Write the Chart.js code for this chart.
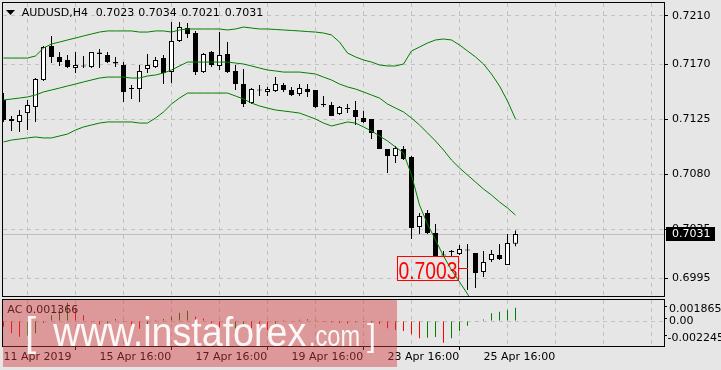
<!DOCTYPE html>
<html><head><meta charset="utf-8">
<script src="https://cdn.jsdelivr.net/npm/chart.js@4.4.0/dist/chart.umd.min.js"></script>
<style>
html,body{margin:0;padding:0;background:#e6e6e6;width:721px;height:370px;overflow:hidden}
canvas{position:absolute;left:0}
#main{top:0}
#sub{top:297px}
</style></head><body>
<canvas id="main" width="721" height="297"></canvas>
<canvas id="sub" width="721" height="73"></canvas>
<script>
// ---------------- data ----------------
const symbolTitle = 'AUDUSD,H4';
const open = [0.71409,0.71237,0.71229,0.71302,0.71352,0.71573,0.71852,0.71761,0.71737,0.71671,
0.71684,0.71679,0.71786,0.71778,0.71720,0.71696,0.71499,0.71499,0.71663,0.71679,
0.71753,0.71638,0.71893,0.71999,0.71958,0.71638,0.71802,0.71688,0.71786,0.71647,
0.71540,0.71384,0.71487,0.71475,0.71483,0.71532,0.71491,0.71458,0.71499,0.71491,
0.71376,0.71368,0.71294,0.71335,0.71327,0.71261,0.71253,0.71163,0.71008,0.70950,
0.71008,0.70942,0.70368,0.70483,0.70319,0.70134,0.70163,0.70147,0.70175,0.70155,
0.69999,0.70097,0.70138,0.70056,0.70230];
const high = [0.71466,0.71278,0.71327,0.71409,0.71589,0.71852,0.71934,0.71802,0.71778,0.71802,
0.71770,0.71802,0.71827,0.71802,0.71761,0.71720,0.71532,0.71696,0.71786,0.71761,
0.71778,0.72048,0.72048,0.72040,0.71975,0.71794,0.71811,0.71966,0.71884,0.71696,
0.71663,0.71507,0.71532,0.71516,0.71597,0.71548,0.71516,0.71540,0.71540,0.71491,
0.71442,0.71393,0.71360,0.71376,0.71401,0.71319,0.71253,0.71163,0.71008,0.71032,
0.71032,0.70950,0.70483,0.70507,0.70393,0.70171,0.70179,0.70220,0.70229,0.70155,
0.70171,0.70179,0.70229,0.70311,0.70340];
const low = [0.71229,0.71155,0.71147,0.71163,0.71229,0.71565,0.71712,0.71688,0.71671,0.71630,
0.71671,0.71671,0.71671,0.71712,0.71679,0.71393,0.71417,0.71393,0.71630,0.71671,
0.71540,0.71548,0.71884,0.71917,0.71614,0.71630,0.71679,0.71655,0.71630,0.71491,
0.71352,0.71376,0.71442,0.71442,0.71475,0.71475,0.71442,0.71442,0.71434,0.71343,
0.71352,0.71278,0.71286,0.71302,0.71204,0.71220,0.71089,0.71008,0.70811,0.70893,
0.70917,0.70270,0.70311,0.70311,0.70122,0.70130,0.70130,0.70138,0.69852,0.69868,
0.69958,0.70081,0.70097,0.70056,0.70210];
const close = [0.71245,0.71253,0.71286,0.71368,0.71581,0.71843,0.71761,0.71720,0.71679,0.71696,
0.71684,0.71802,0.71798,0.71720,0.71708,0.71475,0.71499,0.71647,0.71696,0.71737,
0.71630,0.71893,0.72007,0.71950,0.71638,0.71786,0.71696,0.71778,0.71638,0.71540,
0.71376,0.71499,0.71487,0.71499,0.71540,0.71491,0.71450,0.71507,0.71475,0.71352,
0.71368,0.71278,0.71352,0.71335,0.71270,0.71229,0.71139,0.71008,0.70950,0.71016,
0.70925,0.70360,0.70458,0.70319,0.70130,0.70134,0.70163,0.70188,0.70175,0.69991,
0.70081,0.70147,0.70106,0.70237,0.70310];
const bbUpper = [0.71753,0.71753,0.71753,0.71753,0.71770,0.71835,0.71868,0.71884,0.71901,0.71917,
0.71934,0.71950,0.71966,0.71975,0.71975,0.71975,0.71975,0.71966,0.71966,0.71975,
0.71975,0.71966,0.71983,0.71991,0.71991,0.71991,0.71991,0.71991,0.71983,0.71991,
0.72007,0.71999,0.71991,0.71991,0.71987,0.71983,0.71979,0.71975,0.71970,0.71966,
0.71958,0.71942,0.71884,0.71794,0.71762,0.71737,0.71720,0.71696,0.71688,0.71688,
0.71704,0.71811,0.71843,0.71876,0.71901,0.71909,0.71901,0.71860,0.71811,0.71762,
0.71704,0.71622,0.71524,0.71401,0.71253];
const bbMiddle = [0.71409,0.71417,0.71425,0.71434,0.71450,0.71475,0.71491,0.71507,0.71524,0.71540,
0.71557,0.71573,0.71589,0.71597,0.71597,0.71597,0.71589,0.71589,0.71606,0.71614,
0.71630,0.71655,0.71688,0.71720,0.71720,0.71720,0.71720,0.71720,0.71720,0.71712,
0.71704,0.71688,0.71671,0.71655,0.71647,0.71638,0.71638,0.71638,0.71630,0.71622,
0.71597,0.71573,0.71540,0.71516,0.71499,0.71475,0.71450,0.71425,0.71376,0.71343,
0.71311,0.71261,0.71204,0.71139,0.71073,0.70999,0.70917,0.70852,0.70794,0.70737,
0.70679,0.70630,0.70573,0.70524,0.70466];
const bbLower = [0.71065,0.71081,0.71089,0.71098,0.71106,0.71098,0.71098,0.71114,0.71130,0.71163,
0.71188,0.71204,0.71220,0.71229,0.71229,0.71229,0.71229,0.71220,0.71220,0.71261,
0.71311,0.71376,0.71425,0.71466,0.71466,0.71466,0.71466,0.71466,0.71466,0.71442,
0.71417,0.71384,0.71360,0.71343,0.71327,0.71319,0.71311,0.71302,0.71278,0.71253,
0.71220,0.71196,0.71212,0.71229,0.71220,0.71188,0.71155,0.71114,0.71073,0.71024,
0.70975,0.70794,0.70548,0.70392,0.70262,0.70130,0.70016,0.69918,0.69819,0.69712,
0.69655,0.69638,0.69622,0.69646,0.69679];
const ac = [-0.00058,-0.00127,-0.00161,-0.00150,-0.00127,-0.00020,0.00060,0.00120,0.001865,0.00130,
0.00060,-0.00010,-0.00035,-0.00020,0.00020,-0.00010,-0.00060,-0.00080,-0.00060,0.00010,
0.00020,0.00045,0.00085,0.00105,0.00045,0.00025,-0.00024,-0.00065,-0.00090,-0.00075,
-0.00060,-0.00075,-0.00090,-0.00095,-0.00025,0.00010,0.00005,0.00012,0.00018,0.00010,
-0.00010,-0.00015,-0.00020,-0.00025,-0.00015,-0.00010,-0.00018,-0.00030,-0.00075,-0.00093,
-0.00103,-0.00137,-0.00178,-0.00172,-0.00165,-0.002245,-0.00178,-0.00103,-0.00048,-0.00008,
0.00015,0.00079,0.00096,0.00113,0.001366];
const priceTicks = [0.6995, 0.7035, 0.7080, 0.7125, 0.7170, 0.7210];
const acTicks = [0.001865, 0, -0.002245];
const acTickLabels = ['0.001865', '0.00', '-0.002245'];
const dateLabelIndex = [0, 12, 24, 36, 48, 60];
const dateLabels = ['11 Apr 2019', '15 Apr 16:00', '17 Apr 16:00', '19 Apr 16:00', '23 Apr 16:00', '25 Apr 16:00'];
const markIndex = 58;
const markPrice = 0.7003;

// ---------------- setup ----------------
const FONT = "'DejaVu Sans', sans-serif";
Chart.defaults.font.family = FONT;
Chart.defaults.font.size = 11;
Chart.defaults.color = '#000';
const BG = '#e6e6e6';
const GRID = '#c2c2c2';
const GREEN = '#008000';
const idx = open.map((_, i) => i);
const gridIdx = []; for (let k = 0; k <= 78; k += 6) gridIdx.push(k);
const xMin = -0.0625, xMax = 82.5625;
const yMin = 0.698025, yMax = 0.722041;
const acMin = -0.002569, acMax = 0.002158;
const n = close.length;

function fixFit(w, h) {
  return s => {
    if (w != null) s.width = w;
    if (h != null) s.height = h;
    s.paddingLeft = 0; s.paddingRight = 0; s.paddingTop = 0; s.paddingBottom = 0;
  };
}
function drawFit(c, t, x, y, font, w) {
  c.save(); c.font = font;
  const m = c.measureText(t).width;
  c.translate(x, y);
  if (w) c.scale(w / m, 1);
  c.fillText(t, 0, 0);
  c.restore();
}
const bgPlugin = {
  id: 'bg',
  beforeDraw(chart) {
    const c = chart.ctx; c.save(); c.fillStyle = BG; c.fillRect(0, 0, chart.width, chart.height); c.restore();
  }
};

const mainOverlay = {
  id: 'mainOverlay',
  beforeDatasetsDraw(chart) {
    const c = chart.ctx, a = chart.chartArea;
    const y = Math.floor(chart.scales.y.getPixelForValue(close[n - 1])) + 0.5;
    c.save(); c.strokeStyle = '#bdbdbd'; c.lineWidth = 1;
    c.beginPath(); c.moveTo(a.left, y); c.lineTo(a.right, y); c.stroke(); c.restore();
  },
  afterDraw(chart) {
    const c = chart.ctx, xs = chart.scales.x, ys = chart.scales.y;
    c.save();
    c.strokeStyle = '#000'; c.lineWidth = 1;
    c.strokeRect(2.5, 2.5, 662, 294);
    // title
    c.fillStyle = '#000';
    c.beginPath(); c.moveTo(6, 10); c.lineTo(15, 10); c.lineTo(10.5, 15); c.closePath(); c.fill();
    c.font = '11px ' + FONT; c.textBaseline = 'middle'; c.textAlign = 'left';
    c.fillText(symbolTitle, 21.7, 13);
    const vals = [open[n - 1], high[n - 1], low[n - 1], close[n - 1]].map(v => v.toFixed(4));
    const vx = [95.7, 138.3, 181.3, 224.7];
    vals.forEach((t, k) => c.fillText(t, vx[k], 13));
    // last price box
    const py = ys.getPixelForValue(close[n - 1]);
    c.fillStyle = '#000';
    c.fillRect(666, Math.round(py) - 7, 49, 14);
    c.fillStyle = '#fff';
    c.fillText(close[n - 1].toFixed(4), 672, Math.round(py));
    // 0.7003 mark
    const mx = xs.getPixelForValue(markIndex), my = ys.getPixelForValue(markPrice);
    const right = Math.round(mx - 9.5), left = right - 61, top = Math.round(my) - 12;
    c.strokeStyle = '#ff0000'; c.fillStyle = '#ff0000';
    c.strokeRect(left + 0.5, top + 0.5, 61, 24);
    c.beginPath(); c.moveTo(right + 1, Math.round(my) + 0.5); c.lineTo(Math.round(mx), Math.round(my) + 0.5); c.stroke();
    c.textBaseline = 'alphabetic';
    drawFit(c, markPrice.toFixed(4), left + 1.5, top + 22.5, "24px 'Liberation Sans', sans-serif", 59);
    c.restore();
  }
};

new Chart(document.getElementById('main'), {
  type: 'bar',
  data: {
    datasets: [
      { type: 'line', data: idx.map(i => ({ x: i, y: bbUpper[i] })), borderColor: GREEN, borderWidth: 1, pointRadius: 0, tension: 0, order: 0 },
      { type: 'line', data: idx.map(i => ({ x: i, y: bbMiddle[i] })), borderColor: GREEN, borderWidth: 1, pointRadius: 0, tension: 0, order: 0 },
      { type: 'line', data: idx.map(i => ({ x: i, y: bbLower[i] })), borderColor: GREEN, borderWidth: 1, pointRadius: 0, tension: 0, order: 0 },
      { type: 'bar', data: idx.map(i => ({ x: i, y: [low[i], high[i]] })), backgroundColor: '#000', borderWidth: 0,
        barThickness: 1, grouped: false, inflateAmount: 0, order: 2 },
      { type: 'bar', data: idx.map(i => ({ x: i, y: [open[i], close[i]] })),
        backgroundColor: idx.map(i => close[i] >= open[i] ? '#ffffff' : '#000000'),
        borderColor: '#000', borderWidth: 1, borderSkipped: false, barThickness: 5, grouped: false,
        inflateAmount: 0, minBarLength: 1, order: 1 }
    ]
  },
  options: {
    responsive: false, animation: false, devicePixelRatio: 1, events: [],
    layout: { padding: { left: 3, top: 3, right: 0, bottom: 0 } },
    plugins: { legend: { display: false }, tooltip: { enabled: false } },
    scales: {
      x: {
        type: 'linear', min: xMin, max: xMax, offset: false,
        afterBuildTicks: s => { s.ticks = gridIdx.filter(v => v > 0).map(v => ({ value: v })); },
        ticks: { display: false },
        grid: { color: GRID, lineWidth: 1, drawTicks: false },
        border: { display: false, dash: [4, 4] },
        afterFit: fixFit(null, 1)
      },
      y: {
        type: 'linear', position: 'right', min: yMin, max: yMax,
        afterBuildTicks: s => { s.ticks = priceTicks.map(v => ({ value: v })); },
        ticks: { autoSkip: false, callback: v => Number(v).toFixed(4), padding: 4, color: '#000', font: { size: 11 } },
        grid: { color: GRID, lineWidth: 1, tickColor: '#000', tickLength: 4, tickWidth: 1 },
        border: { display: false, dash: [4, 4] },
        afterFit: fixFit(57, null)
      }
    }
  },
  plugins: [bgPlugin, mainOverlay]
});

const subOverlay = {
  id: 'subOverlay',
  afterDraw(chart) {
    const c = chart.ctx, a = chart.chartArea, ys = chart.scales.y;
    c.save();
    c.strokeStyle = '#000'; c.lineWidth = 1;
    c.strokeRect(2.5, 2.5, 662, 47);
    c.font = '11px ' + FONT; c.fillStyle = '#000'; c.textBaseline = 'middle'; c.textAlign = 'left';
    acTicks.forEach((v, k) => {
      let y = ys.getPixelForValue(v);
      y = Math.min(Math.max(y, a.top + 9), a.bottom - 7.7);
      const x = acTickLabels[k].startsWith('-') ? 667.5 : 669;
      c.fillText(acTickLabels[k], x, y);
      c.fillRect(665, Math.round(y) - 3, 2, 1);
    });
    c.fillText('AC ' + ac[n - 1].toFixed(6), 7.3, 13);
    // watermark
    c.fillStyle = 'rgba(210,60,60,0.45)';
    c.fillRect(3, 3, 394, 67);
    c.fillStyle = 'rgba(255,255,255,0.92)';
    c.textBaseline = 'alphabetic';
    drawFit(c, '[', 25, 48.5, "40px 'Liberation Sans', sans-serif", null);
    drawFit(c, 'www.instaforex', 53.3, 48.5, "40px 'Liberation Sans', sans-serif", 253);
    drawFit(c, '.com', 309, 48.5, "30px 'Liberation Sans', sans-serif", 51);
    drawFit(c, ']', 367, 48.5, "32px 'Liberation Sans', sans-serif", null);
    c.restore();
  }
};

new Chart(document.getElementById('sub'), {
  type: 'bar',
  data: {
    datasets: [{
      data: idx.map(i => ({ x: i, y: ac[i] })),
      backgroundColor: idx.map(i => (i > 0 && ac[i] > ac[i - 1]) ? GREEN : '#ff0000'),
      borderWidth: 0, barThickness: 1, inflateAmount: 0, grouped: false
    }]
  },
  options: {
    responsive: false, animation: false, devicePixelRatio: 1, events: [],
    layout: { padding: { left: 3, top: 3, right: 0, bottom: 0 } },
    plugins: { legend: { display: false }, tooltip: { enabled: false } },
    scales: {
      x: {
        type: 'linear', min: xMin, max: xMax, offset: false,
        afterBuildTicks: s => { s.ticks = gridIdx.map(v => ({ value: v })); },
        ticks: {
          autoSkip: false, maxRotation: 0, minRotation: 0, align: 'start', padding: 1, color: '#000',
          callback: v => { const k = dateLabelIndex.indexOf(v); return k >= 0 ? dateLabels[k] : ''; }
        },
        grid: {
          color: c => (c.tick && c.tick.value === 0) ? 'rgba(0,0,0,0)' : GRID,
          tickColor: c => (c.tick && dateLabelIndex.includes(c.tick.value)) ? '#000' : 'rgba(0,0,0,0)',
          tickLength: 4, lineWidth: 1
        },
        border: { display: false, dash: [4, 4] },
        afterFit: fixFit(null, 24)
      },
      y: {
        type: 'linear', position: 'right', min: acMin, max: acMax,
        afterBuildTicks: s => { s.ticks = [{ value: 0 }]; },
        ticks: { display: false },
        grid: { color: GRID, drawTicks: false, lineWidth: 1 },
        border: { display: false, dash: [4, 4] },
        afterFit: fixFit(57, null)
      }
    }
  },
  plugins: [bgPlugin, subOverlay]
});
</script>
</body></html>
